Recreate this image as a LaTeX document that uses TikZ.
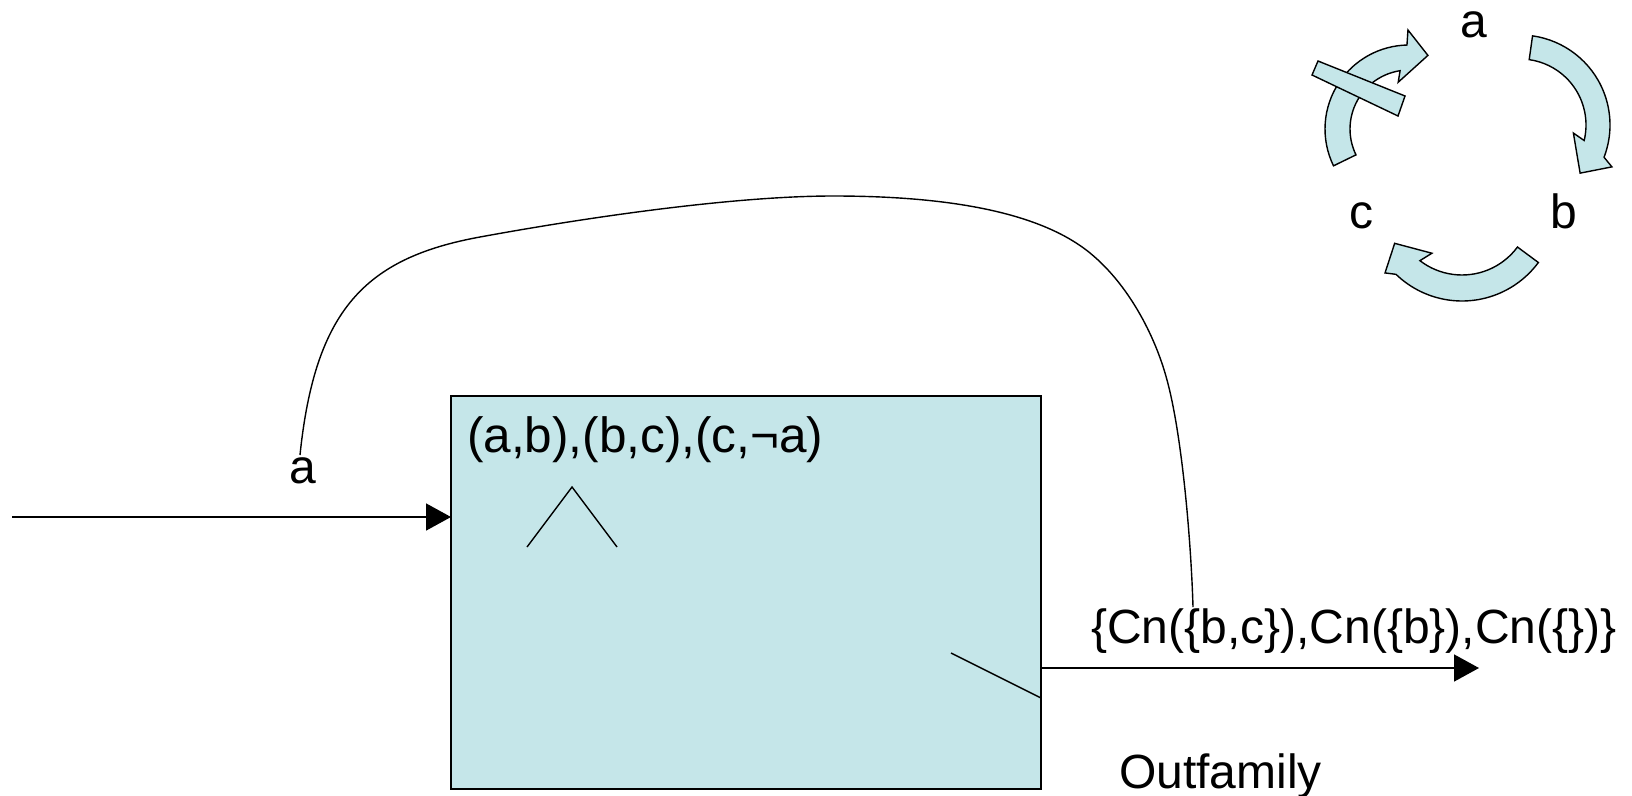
\documentclass[tikz,border=0pt]{standalone}
\usepackage{fontspec}
\setmainfont{Liberation Sans}
\usetikzlibrary{arrows.meta}
\definecolor{boxfill}{RGB}{197,230,233}
\begin{document}
\begin{tikzpicture}[x=1pt,y=-1pt,
  lbl/.style={inner sep=0pt, outer sep=0pt, font=\fontsize{48}{58}\selectfont},
  conn/.style={line width=1.6pt, -{Triangle[length=25pt,width=27pt]}},
  thinline/.style={line width=1.4pt},
  blockarrow/.style={fill=boxfill, draw=black, line width=1.4pt, line join=miter}]
% canvas
\fill[white] (0,0) rectangle (1632,795);
\useasboundingbox (0,0) rectangle (1632,795);

% the processing box
\node[draw, fill=boxfill, line width=1.6pt, minimum width=590pt, minimum height=393pt,
      anchor=north west, inner sep=0pt, outer sep=0pt] (box) at (451,396) {};

% texts
\node[lbl, font=\fontsize{49.5}{59}\selectfont, anchor=base west] (rules) at (467,452) {(a,b),(b,c),(c,¬a)};
\node[lbl, anchor=base] (ain) at (303,483) {a};
\node[lbl, anchor=base west] (fam) at (1091,643) {\{Cn(\{b,c\}),Cn(\{b\}),Cn(\{\})\}};
\node[lbl, anchor=base west] (outlbl) at (1119,788) {Outfamily};
\node[lbl, anchor=base] (ca) at (1474,37) {a};
\node[lbl, anchor=base] (cb) at (1564,228) {b};
\node[lbl, anchor=base] (cc) at (1361,228) {c};

% input and output arrows
\coordinate (src) at (12,517);
\draw[conn] (src) -- (src -| box.west);
\coordinate (sink) at (1479,668);
\draw[conn] (box.east |- sink) -- (sink);

% conjunction wedge and switch inside the box
\draw[thinline] (527,547) -- (572,487) -- (617,547);
\coordinate (sw) at (951,653);
\draw[thinline] (sw) -- (box.east |- 0,698);

% feedback curve
\coordinate (cstart) at (300,455);
\coordinate (cend) at (1193,607);
\draw[line width=1.4pt] (cstart) .. controls (315,310) and (365,258) .. (480,237)
  .. controls (600,215) and (740,196) .. (833,196)
  .. controls (933,196) and (1035,208) .. (1090,253)
  .. controls (1128,284) and (1155,335) .. (1167,380)
  .. controls (1182,435) and (1191,540) .. (cend);

% cycle a -> b -> c -> a
\begin{scope}[shift={(1520,125)}]
  \filldraw[blockarrow] (-82:90) arc[start angle=-82, end angle=21, radius=90]
    -- (24.5:101) -- (38.7:77) -- (8.6:54) -- (13.6:66)
    arc[start angle=13.6, end angle=-82, radius=66] -- cycle;
\end{scope}
\begin{scope}[shift={(1462,206)}]
  \filldraw[blockarrow] (36.5:95) arc[start angle=36.5, end angle=134, radius=95]
    -- (139:102) -- (151:77) -- (122.5:56) -- (127.6:69)
    arc[start angle=127.6, end angle=36.5, radius=69] -- cycle;
\end{scope}
\begin{scope}[shift={(1409,129)}]
  \filldraw[blockarrow] (154:84) arc[start angle=154, end angle=268.6, radius=84]
    -- (269.4:99) -- (284.4:76) -- (257:48) -- (261.3:59)
    arc[start angle=261.3, end angle=154, radius=59] -- cycle;
\end{scope}
% blocking bar across the c -> a arrow
\filldraw[blockarrow] (1318,61) -- (1405,96) -- (1398,116) -- (1312,75) -- cycle;
\end{tikzpicture}
\end{document}
